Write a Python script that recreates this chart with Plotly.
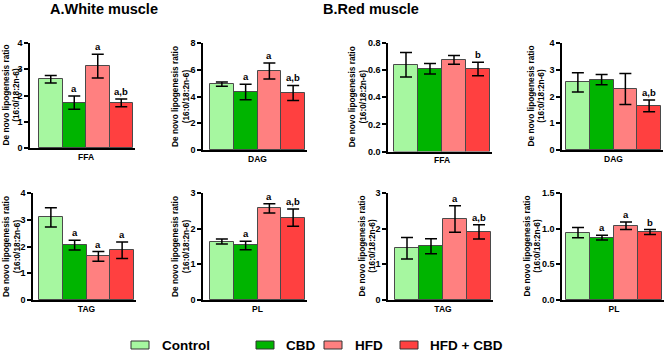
import plotly.graph_objects as go

# ---------------- data ----------------
groups = ["Control", "CBD", "HFD", "HFD + CBD"]
colors = ["#a6f7a0", "#00b400", "#ff8080", "#ff4040"]

lipid_classes = ["FFA", "DAG", "FFA", "DAG", "TAG", "PL", "TAG", "PL"]

white_ffa_mean = [2.62, 1.73, 3.12, 1.72]
white_ffa_err = [0.14, 0.25, 0.45, 0.15]
white_ffa_sig = ["", "a", "a", "a,b"]

white_dag_mean = [4.92, 4.33, 5.90, 4.27]
white_dag_err = [0.16, 0.58, 0.60, 0.56]
white_dag_sig = ["", "a", "a", "a,b"]

red_ffa_mean = [0.64, 0.61, 0.675, 0.608]
red_ffa_err = [0.09, 0.038, 0.032, 0.05]
red_ffa_sig = ["", "", "", "b"]

red_dag_mean = [2.53, 2.63, 2.28, 1.65]
red_dag_err = [0.36, 0.19, 0.58, 0.22]
red_dag_sig = ["", "", "", "a,b"]

white_tag_mean = [3.09, 2.05, 1.63, 1.86]
white_tag_err = [0.36, 0.18, 0.18, 0.31]
white_tag_sig = ["", "a", "a", "a"]

white_pl_mean = [1.64, 1.53, 2.57, 2.31]
white_pl_err = [0.07, 0.12, 0.13, 0.24]
white_pl_sig = ["", "a", "a", "a,b"]

red_tag_mean = [1.45, 1.51, 2.27, 1.91]
red_tag_err = [0.30, 0.21, 0.37, 0.20]
red_tag_sig = ["", "", "a", "a,b"]

red_pl_mean = [0.943, 0.873, 1.04, 0.952]
red_pl_err = [0.072, 0.033, 0.053, 0.035]
red_pl_sig = ["", "a", "a", "b"]

panel_means = [white_ffa_mean, white_dag_mean, red_ffa_mean, red_dag_mean,
               white_tag_mean, white_pl_mean, red_tag_mean, red_pl_mean]
panel_errs = [white_ffa_err, white_dag_err, red_ffa_err, red_dag_err,
              white_tag_err, white_pl_err, red_tag_err, red_pl_err]
panel_sigs = [white_ffa_sig, white_dag_sig, red_ffa_sig, red_dag_sig,
              white_tag_sig, white_pl_sig, red_tag_sig, red_pl_sig]
y_max = [4, 8, 0.8, 4, 4, 3, 3, 1.5]
y_step = [1, 2, 0.2, 1, 1, 1, 1, 0.5]
y_fmt = ["d", "d", ".1f", "d", "d", "d", "d", ".1f"]

section_titles = ["A.White muscle", "B.Red muscle"]
y_title = "De novo lipogenesis ratio<br>(16:0/18:2n-6)"

# ---------------- layout geometry (pixels) ----------------
W, H = 668, 355
# axis_x, bar_left, bar_right, y_top, y_zero, title_x
geom = [
    (30, 39, 133, 43, 148, 11),
    (203, 210, 305, 43, 150, 180.5),
    (388, 394, 490, 43, 151.5, 357),
    (562, 566, 661, 43, 150, 536),
    (33, 39, 134, 193, 300, 11.5),
    (203, 210, 305, 193, 300, 180.5),
    (388, 395, 491, 193, 300, 367),
    (562, 566, 662, 193, 300, 532),
]

FONT = "Liberation Sans, Arial, sans-serif"

def px(x):
    return x / W

def py(y):
    return 1 - y / H

fig = go.Figure()
annotations = []
shapes = []

for i in range(8):
    ax_x, bl, br, yt, yz, tx = geom[i]
    unit = (br - bl) / 4.0
    right_end = br + 2
    r0 = -0.5 - (bl - ax_x) / unit
    r1 = 3.5 + (right_end - br) / unit
    xa = "xaxis" if i == 0 else f"xaxis{i+1}"
    ya = "yaxis" if i == 0 else f"yaxis{i+1}"
    xr = "x" if i == 0 else f"x{i+1}"
    yr = "y" if i == 0 else f"y{i+1}"

    fig.add_trace(go.Bar(
        x=[0, 1, 2, 3], y=panel_means[i], width=1,
        marker=dict(color=colors, line=dict(color="#4a4a4a", width=1)),
        error_y=dict(type="data", array=panel_errs[i], visible=True,
                     color="black", thickness=1.5, width=6),
        xaxis=xr, yaxis=yr, showlegend=False, hoverinfo="skip",
    ))

    fig.layout[xa] = dict(
        domain=[px(ax_x), px(right_end)], anchor=yr, range=[r0, r1],
        showline=True, linecolor="black", linewidth=1.5,
        tickvals=[1.5], ticktext=[lipid_classes[i]], ticks="",
        showgrid=False, zeroline=False, fixedrange=True, automargin=False,
        tickfont=dict(family=FONT, size=8.5, color="black", weight="bold"),
    )
    nt = int(round(y_max[i] / y_step[i]))
    tv = [k * y_step[i] for k in range(nt + 1)]
    if y_fmt[i] == "d":
        tt = [str(int(round(v))) for v in tv]
    else:
        tt = [f"{v:.1f}" for v in tv]
    fig.layout[ya] = dict(
        domain=[py(yz), py(yt)], anchor=xr, range=[0, y_max[i]],
        showline=True, linecolor="black", linewidth=1.5,
        ticks="outside", ticklen=4, tickwidth=1.5, tickcolor="black",
        tickvals=tv, ticktext=tt, showgrid=False, zeroline=False,
        fixedrange=True, automargin=False,
        tickfont=dict(family=FONT, size=9, color="black", weight="bold"),
    )

    # y title
    annotations.append(dict(
        x=px(tx), y=py((yt + yz) / 2), xref="paper", yref="paper",
        text=y_title, textangle=-90, showarrow=False,
        xanchor="center", yanchor="middle",
        font=dict(family=FONT, size=8.3, color="black", weight="bold"),
    ))

    # significance letters
    for k in range(4):
        if panel_sigs[i][k]:
            annotations.append(dict(
                x=k, y=panel_means[i][k] + panel_errs[i][k], xref=xr, yref=yr,
                text=panel_sigs[i][k], showarrow=False, yanchor="bottom",
                xanchor="center", yshift=0,
                font=dict(family=FONT, size=9.5, color="black", weight="bold"),
            ))

# section titles
for t, cx in zip(section_titles, [104, 371]):
    annotations.append(dict(
        x=px(cx), y=py(9), xref="paper", yref="paper", text=t,
        showarrow=False, xanchor="center", yanchor="middle",
        font=dict(family=FONT, size=14.5, color="black", weight="bold"),
    ))

# legend (manual)
swatch_x = [131, 256, 324, 400]
text_x = [160, 284, 353, 428]
ly = 345
for k in range(4):
    shapes.append(dict(
        type="rect", xref="paper", yref="paper",
        x0=px(swatch_x[k]), x1=px(swatch_x[k] + 18),
        y0=py(ly + 4), y1=py(ly - 4),
        fillcolor=colors[k], line=dict(color="#333333", width=1),
    ))
    annotations.append(dict(
        x=px(text_x[k]), y=py(ly), xref="paper", yref="paper",
        text=groups[k], showarrow=False, xanchor="left", yanchor="middle",
        font=dict(family=FONT, size=13.5, color="black", weight="bold"),
    ))

fig.update_layout(
    width=W, height=H, autosize=False,
    margin=dict(l=0, r=0, t=0, b=0, pad=0),
    paper_bgcolor="white", plot_bgcolor="white",
    annotations=annotations, shapes=shapes,
    bargap=0,
)

fig.write_html(
    "out.html",
    config={"displayModeBar": False},
    post_script="document.body.style.margin='0';document.body.style.padding='0';document.body.style.overflow='hidden';",
)
